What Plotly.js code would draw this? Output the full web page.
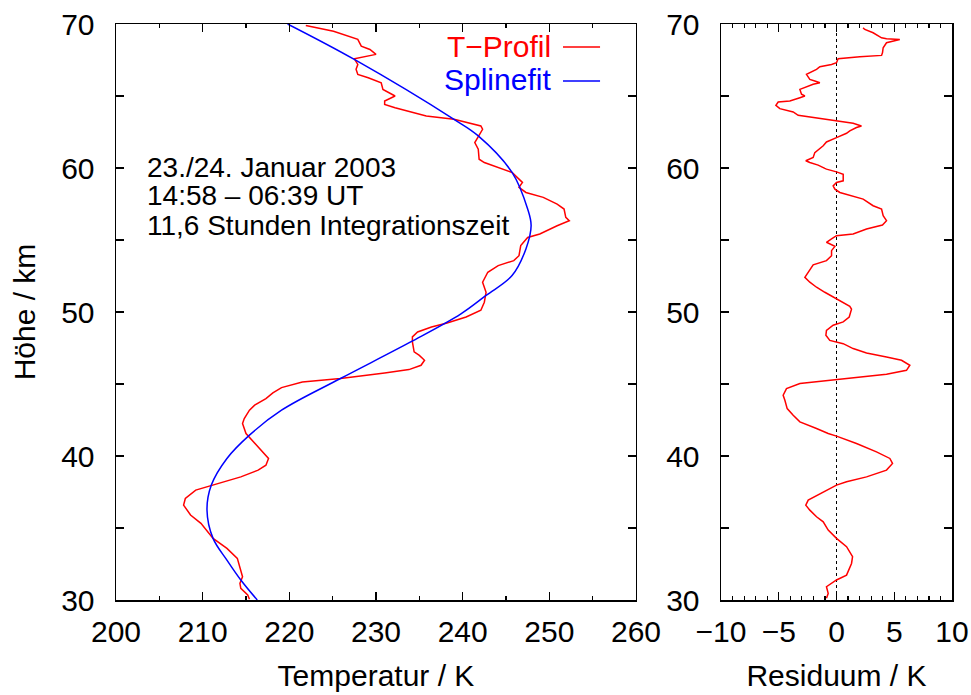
<!DOCTYPE html>
<html>
<head>
<meta charset="utf-8">
<script src="https://cdn.plot.ly/plotly-3.0.1.min.js"></script>
<style>html,body{margin:0;padding:0;background:#fff;}#chart{width:971px;height:695px;}</style>
</head>
<body>
<div id="chart"></div>
<script>
// ---- data ----
const profileT = [221.9,225.1,227.9,228.3,229.3,230.0,227.5,227.9,227.7,227.9,229.1,230.6,230.8,232.2,231.0,231.0,232.2,234.2,235.8,239.0,242.1,242.3,241.8,241.4,241.8,241.9,242.5,244.1,245.7,246.5,246.9,246.5,247.3,249.3,250.9,251.7,251.9,252.3,250.9,248.9,247.5,246.7,246.5,245.9,244.1,242.9,242.3,242.7,242.5,242.1,240.4,238.2,236.4,234.8,234.2,234.2,234.4,235.0,235.6,235.2,233.8,231.0,225.9,221.5,219.1,218.1,217.3,216.0,215.4,214.8,214.6,215.0,216.0,217.1,217.6,217.3,216.4,214.4,211.2,209.2,208.0,207.8,208.6,209.8,211.2,212.8,214.0,214.4,214.6,214.3,214.4,215.2,215.4];
const profileH = [69.9,69.5,68.93,68.46,68.23,67.89,67.59,67.19,66.85,66.5,66.27,65.92,65.46,65.0,64.65,64.42,64.19,63.85,63.61,63.38,62.92,62.69,62.23,61.77,61.3,60.61,60.38,60.03,59.69,59.23,59.0,58.65,58.3,57.96,57.49,57.15,56.57,56.34,55.99,55.42,55.18,54.61,53.91,53.57,53.22,52.76,52.07,51.37,50.68,50.12,49.65,49.24,48.96,48.61,48.27,47.92,47.23,46.99,46.65,46.3,46.0,45.77,45.38,45.14,44.75,44.38,43.99,43.53,43.18,42.6,42.25,41.56,40.87,40.17,39.83,39.36,39.02,38.55,37.98,37.63,37.05,36.59,35.9,35.32,34.28,33.58,32.89,31.97,31.62,31.16,30.81,30.35,30.05];

const splineT = [219.8,227.5,239.0,241.8,245.7,247.5,247.9,247.3,245.7,242.7,239.8,234.0,225.9,219.1,215.4,212.8,211.0,210.5,211.2,212.8,214.4,216.3];
const splineH = [70.0,67.54,63.38,62.23,59.69,57.15,56.0,54.38,52.53,51.15,49.87,47.92,45.38,43.18,41.45,39.83,37.98,36.24,34.28,32.77,31.39,30.0];

const residR = [2.3,2.45,3.17,3.9,4.33,5.48,4.33,4.04,3.98,3.9,2.02,0.14,0.0,-0.43,-1.44,-1.73,-2.6,-2.31,-1.88,-1.44,-2.02,-2.89,-3.17,-3.03,-2.74,-3.17,-4.04,-5.05,-5.25,-4.91,-3.75,-3.32,-2.02,0.0,1.44,2.16,1.73,1.15,0.87,0.0,-0.87,-1.15,-1.88,-2.02,-2.66,-2.31,-1.59,-1.01,-0.87,0.0,0.58,0.58,0.0,-0.29,-0.14,0.29,1.15,2.31,3.17,3.9,4.04,4.33,3.98,2.6,1.44,0.0,-0.43,-0.87,-0.14,-0.43,-0.43,-0.87,-2.02,-2.45,-2.74,-2.31,-1.73,-1.01,0.0,0.58,1.15,1.3,1.1,0.58,-0.29,-0.87,-0.92,-0.58,0.58,1.44,2.6,4.33,5.63,6.35,6.06,4.33,0.0,-3.17,-4.33,-4.62,-4.47,-4.27,-3.75,-3.17,-1.73,-0.72,0.0,1.73,3.46,4.62,4.85,4.33,2.6,0.87,0.0,-1.44,-2.45,-2.66,-2.31,-1.73,-1.15,-0.72,0.0,0.87,1.39,1.3,0.87,0.0,-0.87,-0.72,-0.87];
const residH = [69.73,69.62,69.39,69.04,68.97,68.93,68.7,68.35,68.0,67.82,67.73,67.59,67.31,67.19,67.03,66.85,66.5,66.15,66.04,65.92,65.81,65.58,65.46,65.12,65.0,64.88,64.65,64.58,64.35,64.12,63.89,63.66,63.5,63.27,63.11,62.92,62.81,62.58,62.41,62.11,61.81,61.54,61.07,60.73,60.5,60.38,60.2,59.97,59.92,59.73,59.57,59.11,59.0,58.76,58.53,58.3,58.12,57.84,57.38,57.15,56.69,56.34,56.04,55.76,55.42,55.3,55.07,54.84,54.56,54.26,53.91,53.57,53.27,52.76,52.41,52.07,51.72,51.37,50.91,50.68,50.4,50.2,49.65,49.31,49.08,48.73,48.38,48.03,47.8,47.46,47.16,46.88,46.65,46.3,45.95,45.68,45.33,45.03,44.68,44.22,43.87,43.29,42.83,42.37,41.91,41.56,41.38,40.87,40.29,39.83,39.48,39.02,38.55,38.21,37.98,37.4,36.94,36.59,36.24,35.78,35.43,34.86,34.28,33.7,33.01,32.54,31.73,31.39,30.92,30.46,30.12];

const zeroR = [0, 0];
const zeroH = [30, 70];

const legendNames = ['T\u2212Profil', 'Splinefit'];
const infoLines = ['23./24. Januar 2003', '14:58 \u2013 06:39 UT', '11,6 Stunden Integrationszeit'];
const xTitle1 = 'Temperatur / K';
const xTitle2 = 'Residuum / K';
const yTitle = 'H\u00f6he / km';

// ---- styles ----
const RED = '#ff0000', BLUE = '#0000ff';
const FONT = 'Liberation Sans, Arial, Helvetica, sans-serif';

const traces = [
  {x: profileT, y: profileH, xaxis: 'x', yaxis: 'y', mode: 'lines', line: {color: RED, width: 1.5}, name: legendNames[0], hoverinfo: 'skip'},
  {x: splineT, y: splineH, xaxis: 'x', yaxis: 'y', mode: 'lines', line: {color: BLUE, width: 1.5, shape: 'spline', smoothing: 1}, name: legendNames[1], hoverinfo: 'skip'},
  {x: zeroR, y: zeroH, xaxis: 'x2', yaxis: 'y2', mode: 'lines', line: {color: '#000', width: 1, dash: 'dot'}, hoverinfo: 'skip'},
  {x: residR, y: residH, xaxis: 'x2', yaxis: 'y2', mode: 'lines', line: {color: RED, width: 1.5}, hoverinfo: 'skip'}
];

const axBase = {
  showline: true, linecolor: '#000', linewidth: 1.5, mirror: 'ticks',
  ticks: 'inside', tickcolor: '#000', tickwidth: 1.2, ticklen: 8,
  showgrid: false, zeroline: false, fixedrange: true,
  tickfont: {family: FONT, size: 30, color: '#000'}
};

const layout = {
  width: 971, height: 695,
  margin: {l: 116, r: 19, t: 24, b: 95, pad: 0},
  paper_bgcolor: '#fff', plot_bgcolor: '#fff',
  showlegend: false,
  font: {family: FONT, size: 30, color: '#000'},
  xaxis: Object.assign({}, axBase, {
    domain: [0, 0.622], anchor: 'y', range: [200, 260], tick0: 200, dtick: 10,
    minor: {dtick: 5, ticks: 'inside', ticklen: 4, tickcolor: '#000', tickwidth: 1.2, showgrid: false},
    ticklabelstandoff: 4,
    title: {text: xTitle1, font: {family: FONT, size: 30, color: '#000'}, standoff: 18}
  }),
  yaxis: Object.assign({}, axBase, {
    domain: [0, 1], anchor: 'x', range: [30, 70], tick0: 30, dtick: 10,
    minor: {dtick: 5, ticks: 'inside', ticklen: 8, tickcolor: '#000', tickwidth: 1.2, showgrid: false},
    ticklabelstandoff: 14,
    title: {text: yTitle, font: {family: FONT, size: 30, color: '#000'}, standoff: 16}
  }),
  xaxis2: Object.assign({}, axBase, {
    domain: [0.7237, 1], anchor: 'y2', range: [-10, 10], tick0: 0, dtick: 5,
    minor: {dtick: 1, ticks: 'inside', ticklen: 4, tickcolor: '#000', tickwidth: 1.2, showgrid: false},
    ticklabelstandoff: 4,
    title: {text: xTitle2, font: {family: FONT, size: 30, color: '#000'}, standoff: 18}
  }),
  yaxis2: Object.assign({}, axBase, {
    domain: [0, 1], anchor: 'x2', range: [30, 70], tick0: 30, dtick: 10,
    minor: {dtick: 5, ticks: 'inside', ticklen: 8, tickcolor: '#000', tickwidth: 1.2, showgrid: false},
    ticklabelstandoff: 14
  }),
  annotations: [
    {xref: 'paper', yref: 'paper', x: 0.5227, y: 0.9618, xanchor: 'right', yanchor: 'middle', showarrow: false, text: legendNames[0], font: {family: FONT, size: 30, color: RED}},
    {xref: 'paper', yref: 'paper', x: 0.5227, y: 0.9028, xanchor: 'right', yanchor: 'middle', showarrow: false, text: legendNames[1], font: {family: FONT, size: 30, color: BLUE}},
    {xref: 'paper', yref: 'paper', x: 0.0347, y: 0.7517, xanchor: 'left', yanchor: 'middle', showarrow: false, text: infoLines[0], font: {family: FONT, size: 28, color: '#000'}},
    {xref: 'paper', yref: 'paper', x: 0.0347, y: 0.7014, xanchor: 'left', yanchor: 'middle', showarrow: false, text: infoLines[1], font: {family: FONT, size: 28, color: '#000'}},
    {xref: 'paper', yref: 'paper', x: 0.0347, y: 0.6510, xanchor: 'left', yanchor: 'middle', showarrow: false, text: infoLines[2], font: {family: FONT, size: 28, color: '#000'}}
  ],
  shapes: [
    {type: 'line', xref: 'paper', yref: 'paper', x0: 0.5347, x1: 0.579, y0: 0.960, y1: 0.960, line: {color: RED, width: 1.5}},
    {type: 'line', xref: 'paper', yref: 'paper', x0: 0.5347, x1: 0.579, y0: 0.901, y1: 0.901, line: {color: BLUE, width: 1.5}}
  ]
};

Plotly.newPlot('chart', traces, layout, {displayModeBar: false, staticPlot: true});
</script>
</body>
</html>
